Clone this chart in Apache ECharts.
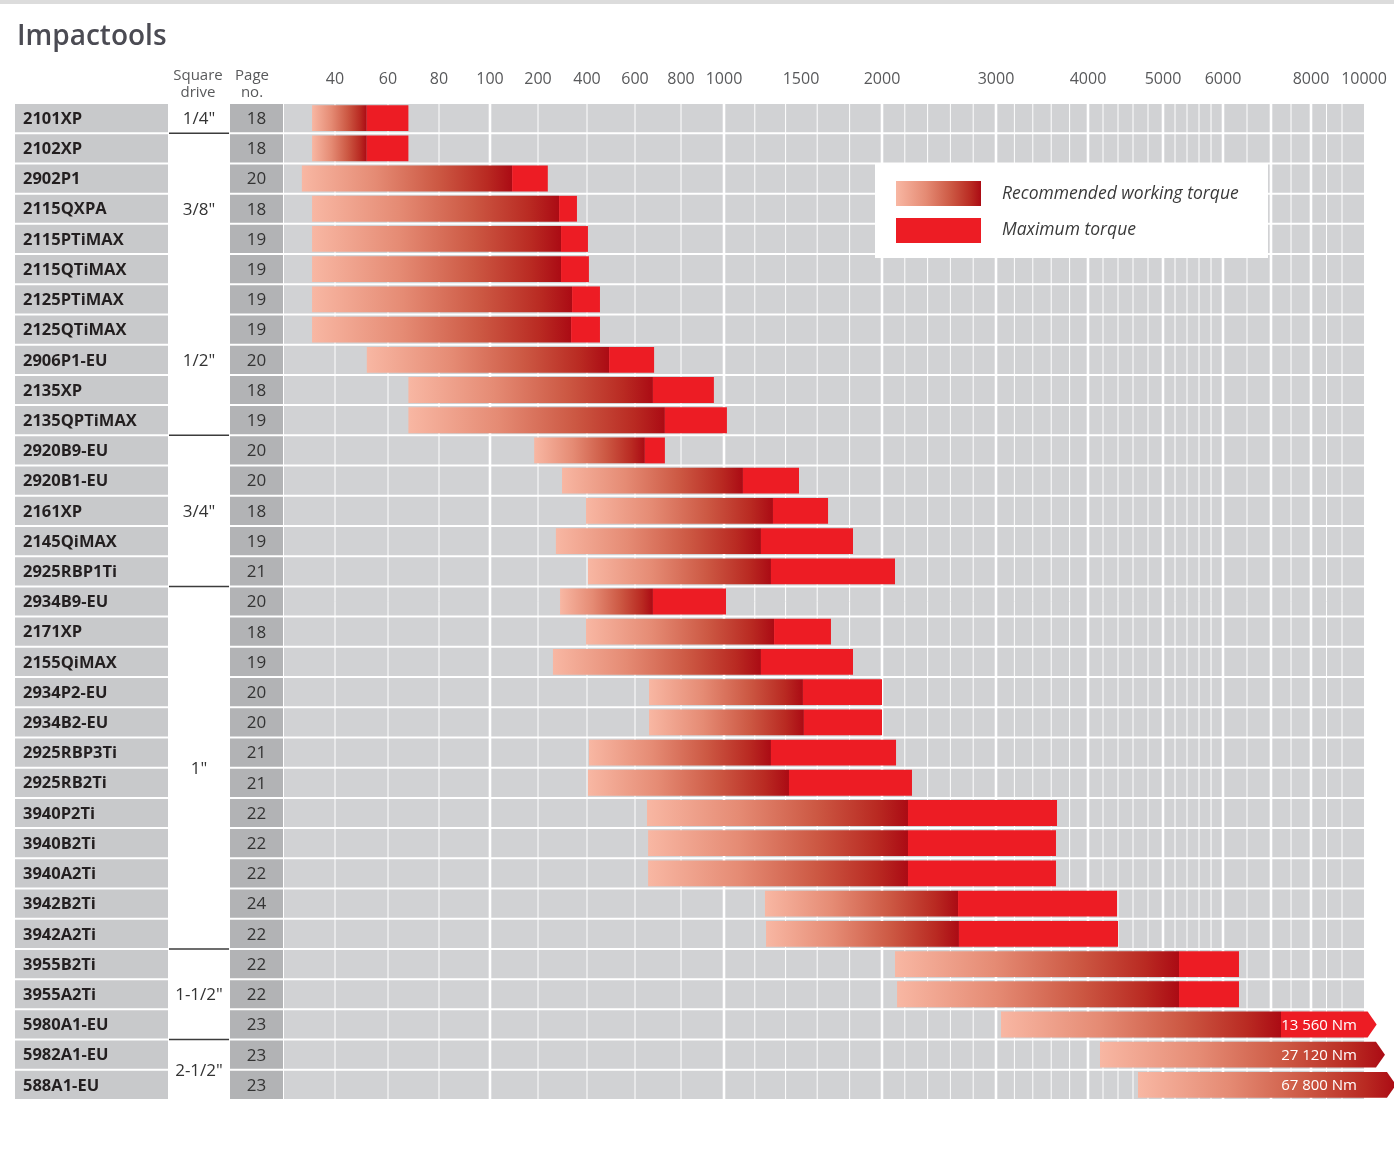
<!DOCTYPE html>
<html>
<head>
<meta charset="utf-8">
<script src="https://cdn.jsdelivr.net/npm/echarts@6/dist/echarts.min.js"></script>
<style>
html,body{margin:0;padding:0;background:#fff;}
#chart{width:1394px;height:1171px;}
</style>
</head>
<body>
<div id="chart"></div>
<script>
// ---------- data ----------
const models = ['2101XP','2102XP','2902P1','2115QXPA','2115PTiMAX','2115QTiMAX','2125PTiMAX','2125QTiMAX','2906P1-EU','2135XP','2135QPTiMAX','2920B9-EU','2920B1-EU','2161XP','2145QiMAX','2925RBP1Ti','2934B9-EU','2171XP','2155QiMAX','2934P2-EU','2934B2-EU','2925RBP3Ti','2925RB2Ti','3940P2Ti','3940B2Ti','3940A2Ti','3942B2Ti','3942A2Ti','3955B2Ti','3955A2Ti','5980A1-EU','5982A1-EU','588A1-EU'];
const pages = [18,18,20,18,19,19,19,19,20,18,19,20,20,18,19,21,20,18,19,20,20,21,21,22,22,22,24,22,22,22,23,23,23];
const recMin = [31,31,27,31,31,31,31,31,52,68,68,192,298,396,273,404,290,396,261,661,661,408,404,652,657,657,1266,1273,2114,2132,3054,4160,4667];
const recMax = [52,52,146,286,294,294,339,335,492,678,730,643,1123,1318,1240,1305,678,1325,1240,1512,1518,1305,1422,2228,2228,2228,2667,2675,5267,5267,7250,27120,67800];
const maxTorque = [68,68,240,359,404,408,454,454,683,953,1019,730,1487,1667,1821,2114,1013,1685,1821,2000,2000,2123,2263,3663,3652,3652,4387,4400,6333,6333,13560,27120,67800];

const driveLabels = ['1/4"','3/8"','1/2"','3/4"','1"','1-1/2"','2-1/2"'];
const driveFirstRow = [0,1,6,11,16,28,31];
const driveLastRow = [0,5,10,15,27,30,32];
const driveBreakAfter = [0,10,15,27,30];

const tickLabels = [40,60,80,100,200,400,600,800,1000,1500,2000,3000,4000,5000,6000,8000,10000];
const gridMajor = [100,1000,2000,3000,4000,5000,6000,7000,8000];
const gridMinor = [40,60,80,200,400,600,800,1200,1400,1600,1800,2200,2400,2600,2800,3200,3400,3600,3800,4200,4400,4600,4800,5200,5400,5600,5800,6500,7500,8500,9000];

// ---------- non-linear torque scale (Nm -> axis units) ----------
const scaleNm  = [20,40,60,80,100,200,400,600,800,1000,1500,2000,3000,4000,5000,6000,7000,8000,9000,10000];
const scalePos = [0,51,104,155,206,254,303,351,397,440,517,598,712,804,879,939,987,1027,1058,1080];
function toU(v){
  if (v <= scaleNm[0]) return scalePos[0];
  const last = scaleNm.length - 1;
  if (v > scaleNm[last]) return scalePos[last] + 12 * Math.log(v / scaleNm[last]);
  for (let k = 1; k <= last; k++) {
    if (v <= scaleNm[k]) {
      const t = (v - scaleNm[k-1]) / (scaleNm[k] - scaleNm[k-1]);
      return scalePos[k-1] + t * (scalePos[k] - scalePos[k-1]);
    }
  }
}
const AXIS_MIN = -269, AXIS_MAX = 1080;
const COL_NAME = [-269, -116], COL_DRIVE = [-116, -54], COL_PAGE = [-54, -1];
const FONT = '"Open Sans", "Noto Sans", sans-serif';
const RED = '#ed1c24';
function recGradient(){
  return new echarts.graphic.LinearGradient(0,0,1,0,[
    {offset:0,color:'#f8b7a3'},{offset:0.35,color:'#e58b74'},
    {offset:0.65,color:'#cc5843'},{offset:0.88,color:'#b92a22'},{offset:1,color:'#ab0b14'}]);
}
function fmt(n){ return String(n).replace(/\B(?=(\d{3})+(?!\d))/g,' '); }

const chart = echarts.init(document.getElementById('chart'), null, {renderer:'canvas'});

const rowData = models.map((m,i)=>[0,i]);
const barData = models.map((m,i)=>[recMin[i], i, recMax[i], maxTorque[i]]);

const option = {
  animation:false,
  backgroundColor:'#fff',
  title:{ text:'Impactools', left:17, top:23, padding:0,
    textStyle:{fontSize:28,fontWeight:600,color:'#4b4b53',fontFamily:FONT} },
  grid:{left:15,right:30,top:103,bottom:71},
  xAxis:{type:'value',min:AXIS_MIN,max:AXIS_MAX,show:false},
  yAxis:{type:'category',data:models,inverse:true,show:false},
  graphic:[
    {type:'rect',x:0,y:0,shape:{x:0,y:0,width:1394,height:4},style:{fill:'#dcdcdc'},z:0},
    {type:'text',x:198,y:84,style:{text:'Square\ndrive',fill:'#58595b',font:'15px '+FONT,align:'center',verticalAlign:'middle',lineHeight:17}},
    {type:'text',x:252,y:84,style:{text:'Page\nno.',fill:'#58595b',font:'15px '+FONT,align:'center',verticalAlign:'middle',lineHeight:17}},
    {type:'rect',x:875,y:163,z:100,shape:{x:0,y:0,width:393,height:95},style:{fill:'#ffffff'}},
    {type:'rect',x:896,y:181,z:101,shape:{x:0,y:0,width:85,height:25},style:{fill:recGradient()}},
    {type:'rect',x:896,y:218,z:101,shape:{x:0,y:0,width:85,height:25},style:{fill:RED}},
    {type:'text',x:1002,y:194,z:101,style:{text:'Recommended working torque',fill:'#3a3a3a',font:'italic 17.5px '+FONT,verticalAlign:'middle'}},
    {type:'text',x:1002,y:230,z:101,style:{text:'Maximum torque',fill:'#3a3a3a',font:'italic 17.5px '+FONT,verticalAlign:'middle'}}
  ],
  series:[
    { // table rows + chart row background
      type:'custom', z:1, data:rowData, encode:{x:0,y:1},
      renderItem:function(params, api){
        const i = params.dataIndex;
        const cy = api.coord([0,i])[1];
        const h = api.size([0,1])[1];
        const y0 = cy - h/2 + 1, hh = h - 2;
        const X = u => api.coord([u,i])[0];
        return {type:'group',children:[
          {type:'rect',shape:{x:X(COL_NAME[0]),y:y0,width:X(COL_NAME[1])-X(COL_NAME[0]),height:hh},style:{fill:'#c8c9cb'}},
          {type:'rect',shape:{x:X(COL_PAGE[0]),y:y0,width:X(COL_PAGE[1])-X(COL_PAGE[0]),height:hh},style:{fill:'#b2b3b5'}},
          {type:'rect',shape:{x:X(0),y:y0,width:X(AXIS_MAX)-X(0),height:hh},style:{fill:'#d1d2d4'}},
          {type:'text',x:X(COL_NAME[0])+8,y:cy+1,style:{text:models[i],fill:'#231f20',font:'bold 16.5px '+FONT,verticalAlign:'middle'}},
          {type:'text',x:(X(COL_PAGE[0])+X(COL_PAGE[1]))/2,y:cy+1,style:{text:String(pages[i]),fill:'#333',font:'17px '+FONT,align:'center',verticalAlign:'middle'}}
        ]};
      }
    },
    { // vertical grid lines
      type:'custom', z:2, data:gridMinor.map(v=>[v,0,1]).concat(gridMajor.map(v=>[v,0,2.6])), encode:{x:0,y:1},
      renderItem:function(params, api){
        const x = api.coord([toU(api.value(0)),0])[0];
        const cs = params.coordSys;
        return {type:'line',shape:{x1:x,y1:cs.y,x2:x,y2:cs.y+cs.height},style:{stroke:'#ffffff',lineWidth:api.value(2)}};
      }
    },
    { // torque bars
      type:'custom', z:3, data:barData, encode:{x:[0,2,3],y:1},
      renderItem:function(params, api){
        const a = api.value(0), i = api.value(1), b = api.value(2), m = api.value(3);
        const cy = api.coord([0,i])[1];
        const h = api.size([0,1])[1];
        const bh = h - 4.4, top = cy - bh/2, bot = cy + bh/2;
        const X = v => api.coord([toU(v), i])[0];
        const x0 = X(a), x1 = X(b), x2 = X(m);
        const children = [];
        const over = m > scaleNm[scaleNm.length-1];
        const tip = 9;
        if (over && b >= m) {
          children.push({type:'polygon',shape:{points:[[x0,top],[x2,top],[x2+tip,cy],[x2,bot],[x0,bot]]},style:{fill:recGradient()}});
        } else {
          children.push({type:'rect',shape:{x:x0,y:top,width:x1-x0,height:bh},style:{fill:recGradient()}});
          if (over) {
            children.push({type:'polygon',shape:{points:[[x1,top],[x2,top],[x2+tip,cy],[x2,bot],[x1,bot]]},style:{fill:RED}});
          } else if (m > b) {
            children.push({type:'rect',shape:{x:x1,y:top,width:x2-x1,height:bh},style:{fill:RED}});
          }
        }
        if (over) {
          const xr = api.coord([AXIS_MAX, i])[0] - 7;
          children.push({type:'text',x:xr,y:cy+1,style:{text:fmt(m)+' Nm',fill:'#fff',font:'15px '+FONT,align:'right',verticalAlign:'middle'}});
        }
        return {type:'group',children};
      }
    },
    { // square drive labels
      type:'custom', z:4, data:driveLabels.map((d,k)=>[0,driveFirstRow[k],driveLastRow[k]]), encode:{x:0,y:1},
      renderItem:function(params, api){
        const k = params.dataIndex;
        const ya = api.coord([0,api.value(1)])[1], yb = api.coord([0,api.value(2)])[1];
        const xc = (api.coord([COL_DRIVE[0],0])[0] + api.coord([COL_DRIVE[1],0])[0]) / 2;
        return {type:'text',x:xc,y:(ya+yb)/2+1,style:{text:driveLabels[k],fill:'#333',font:'17px '+FONT,align:'center',verticalAlign:'middle'}};
      }
    },
    { // square drive group separators
      type:'custom', z:4, data:driveBreakAfter.map(r=>[0,r]), encode:{x:0,y:1},
      renderItem:function(params, api){
        const r = api.value(1);
        const y = api.coord([0,r])[1] + api.size([0,1])[1]/2;
        const xa = api.coord([COL_DRIVE[0],0])[0] + 1, xb = api.coord([COL_DRIVE[1],0])[0] - 1;
        return {type:'line',shape:{x1:xa,y1:y,x2:xb,y2:y},style:{stroke:'#3c3c3c',lineWidth:1.5}};
      }
    },
    { // torque tick labels (top axis)
      type:'custom', z:4, data:tickLabels.map(v=>[v,0]), encode:{x:0,y:1},
      renderItem:function(params, api){
        const x = api.coord([toU(api.value(0)),0])[0];
        return {type:'text',x:x,y:params.coordSys.y-24,style:{text:String(api.value(0)),fill:'#58595b',font:'16px '+FONT,align:'center',verticalAlign:'middle'}};
      }
    }
  ]
};
chart.setOption(option);
</script>
</body>
</html>
